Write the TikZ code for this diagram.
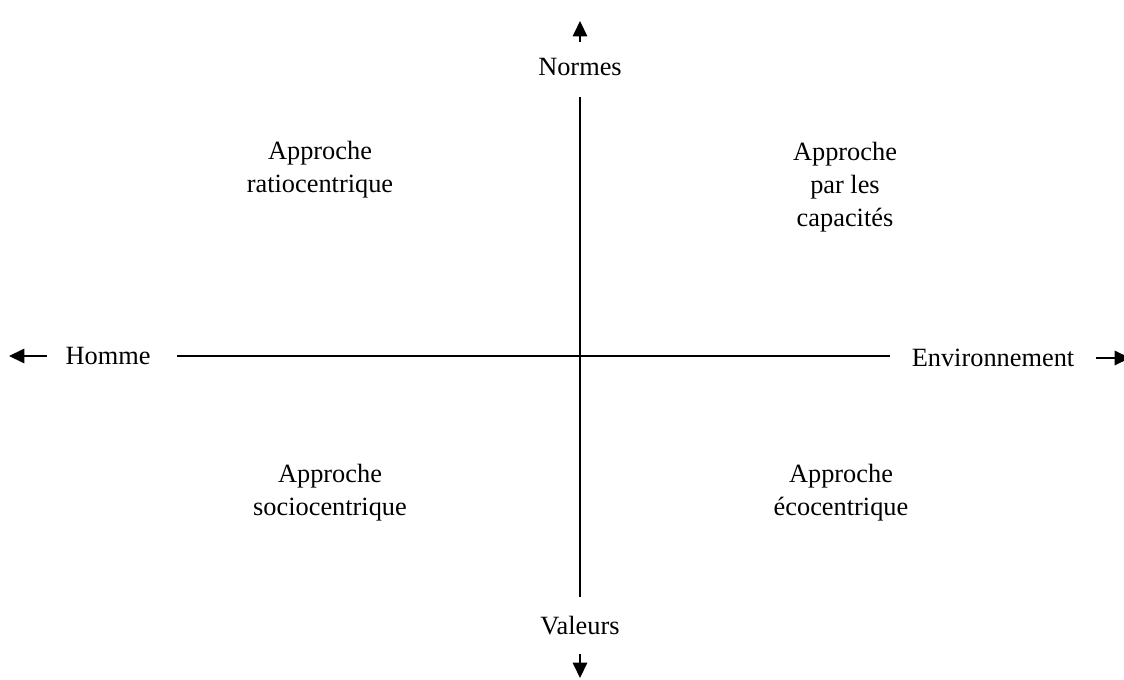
\documentclass[tikz,border=0pt]{standalone}
\usepackage{fontspec}
\setmainfont{Liberation Serif}
\usetikzlibrary{positioning, arrows.meta}

\begin{document}
\begin{tikzpicture}[
    x=0.016cm, y=-0.016cm,
    >=Triangle,
    font=\fontsize{12}{15}\selectfont,
    axis/.style={line width=1.1pt},
    pointer/.style={line width=1.1pt, -{Triangle[length=7pt, width=6.5pt]}},
    label/.style={align=center, inner sep=2pt},
    quadrant/.style={align=center, inner sep=2pt}
]
\useasboundingbox (0,0) rectangle (1124,679);

% Axes
\coordinate (N) at (580,97);
\coordinate (S) at (580,597);
\coordinate (W) at (177,356);
\coordinate (E) at (890,356);
\draw[axis] (N) -- (S);
\draw[axis] (W) -- (E);

% Axis labels
\node[label] (normes) at (580,67) {Normes};
\node[label] (valeurs) at (580,626) {Valeurs};
\node[label] (homme) at (108,356) {Homme};
\node[label] (env) at (993,358) {Environnement};

% Pointers
\coordinate (Ntip) at (580,21);
\coordinate (Nbase) at (580,42);
\coordinate (Stip) at (580,678);
\coordinate (Sbase) at (580,654);
\coordinate (Wtip) at (9,356);
\coordinate (Wbase) at (47,356);
\coordinate (Etip) at (1130,358);
\coordinate (Ebase) at (1096,358);
\draw[pointer] (Nbase) -- (Ntip);
\draw[pointer] (Sbase) -- (Stip);
\draw[pointer] (Wbase) -- (Wtip);
\draw[pointer] (Ebase) -- (Etip);

% Quadrants
\node[quadrant] (ratio) at (320,170) {Approche\\ratiocentrique};
\node[quadrant] (capa) at (845,187) {Approche\\par les\\capacités};
\node[quadrant] (socio) at (330,493) {Approche\\sociocentrique};
\node[quadrant] (eco) at (841,493) {Approche\\écocentrique};

\end{tikzpicture}
\end{document}
